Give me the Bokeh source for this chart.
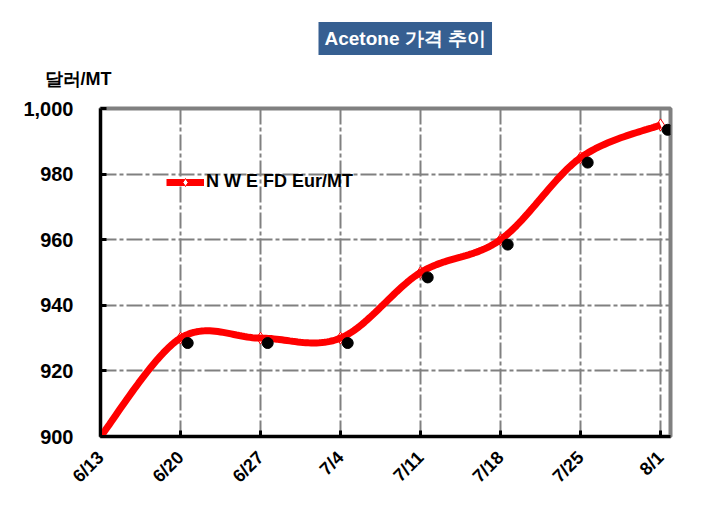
import math
import numpy as np
from bokeh.plotting import figure
from bokeh.models import Range1d, FixedTicker, NumeralTickFormatter, Title, Legend, LegendItem
from bokeh.embed import file_html
from bokeh.resources import INLINE

# ---- data ----
dates = ["6/13", "6/20", "6/27", "7/4", "7/11", "7/18", "7/25", "8/1"]
prices = [900, 930, 930, 930, 950, 960, 985, 995]
series_name = "N W E FD Eur/MT"
chart_title = "Acetone 가격 추이"
y_label = "달러/MT"
y_ticks = [900, 920, 940, 960, 980, 1000]

FONT = "Liberation Sans"

W, H = 700, 505
BL, BR, BT, BB = 100, 30, 108, 69
n = len(dates)
xs = list(range(n))

p = figure(width=W, height=H, output_backend="svg", toolbar_location=None,
           x_range=Range1d(0, n - 1 + 0.125), y_range=Range1d(y_ticks[0], y_ticks[-1]),
           min_border_left=BL, min_border_right=BR, min_border_top=BT, min_border_bottom=BB)
p.background_fill_color = "white"
p.border_fill_color = "white"
p.outline_line_color = "#808080"
p.outline_line_width = 4

# grid
p.xgrid.ticker = FixedTicker(ticks=xs)
p.ygrid.ticker = FixedTicker(ticks=y_ticks)
for g in (p.xgrid, p.ygrid):
    g.grid_line_color = "#808080"
    g.grid_line_width = 2
    g.grid_line_dash = "16 3 4 3"

# axes
p.xaxis.ticker = FixedTicker(ticks=xs)
p.xaxis.major_label_overrides = {i: d for i, d in enumerate(dates)}
p.xaxis.major_label_orientation = math.pi / 4
p.yaxis.ticker = FixedTicker(ticks=y_ticks)
p.yaxis.formatter = NumeralTickFormatter(format="0,0")
for ax in (p.xaxis, p.yaxis):
    ax.axis_line_color = "black"
    ax.axis_line_width = 3
    ax.major_tick_line_color = "black"
    ax.major_tick_line_width = 3
    ax.major_tick_in = 6
    ax.major_tick_out = 0
    ax.minor_tick_line_color = None
    ax.major_label_text_font = FONT
    ax.major_label_text_font_style = "bold"
    ax.major_label_text_color = "black"
p.yaxis.major_label_text_font_size = "20px"
p.yaxis.major_label_standoff = 27
p.xaxis.major_label_text_font_size = "18px"
p.xaxis.major_label_standoff = 18

# smoothed curve (Catmull-Rom style bezier through the data points)
px = np.array(xs, dtype=float)
py = np.array(prices, dtype=float)
cx, cy = [], []
for i in range(n - 1):
    i0, i3 = max(i - 1, 0), min(i + 2, n - 1)
    p0 = np.array([px[i], py[i]])
    p3 = np.array([px[i + 1], py[i + 1]])
    b1 = p0 + (np.array([px[i + 1], py[i + 1]]) - np.array([px[i0], py[i0]])) / 6
    b2 = p3 - (np.array([px[i3], py[i3]]) - np.array([px[i], py[i]])) / 6
    for t in np.linspace(0, 1, 30, endpoint=(i == n - 2)):
        pt = (1 - t) ** 3 * p0 + 3 * (1 - t) ** 2 * t * b1 + 3 * (1 - t) * t ** 2 * b2 + t ** 3 * p3
        cx.append(pt[0]); cy.append(pt[1])

dia = p.scatter(xs, prices, marker="diamond", size=12, fill_color="white",
                line_color="red", line_width=1)
ln = p.line(cx, cy, line_color="#FF0000", line_width=7)
# shadow dots, offset a little right/down
dx = 0.09
dy = 1.5
p.scatter([x + dx for x in xs], [v - dy for v in prices], marker="circle", size=11,
          fill_color="black", line_color="black")

dia_leg = p.scatter(xs[:1], prices[:1], marker="diamond", size=14, fill_color="white",
                    line_color="red", line_width=1, visible=False)
legend = Legend(items=[LegendItem(label=series_name, renderers=[ln, dia_leg])],
                location=(66, 244), orientation="vertical")
legend.background_fill_alpha = 0
legend.border_line_color = None
legend.padding = 0
legend.margin = 0
legend.glyph_width = 38
legend.glyph_height = 20
legend.label_standoff = 2
legend.label_text_font = FONT
legend.label_text_font_style = "bold"
legend.label_text_font_size = "18px"
legend.label_text_color = "black"
p.add_layout(legend, "center")

# y label (as a left-aligned title above the frame)
ylab = Title(text=y_label, align="left", offset=-56, standoff=39,
             text_font=FONT, text_font_style="bold", text_font_size="18px",
             text_color="black")
p.add_layout(ylab, "above")

# main title with filled box
main = Title(text=chart_title, align="left", offset=218, standoff=-15,
             text_font=FONT, text_font_style="bold", text_font_size="19px",
             text_color="white", background_fill_color="#365F91", padding=6)
p.add_layout(main, "above")

open("out.html", "w").write(file_html(p, INLINE))
